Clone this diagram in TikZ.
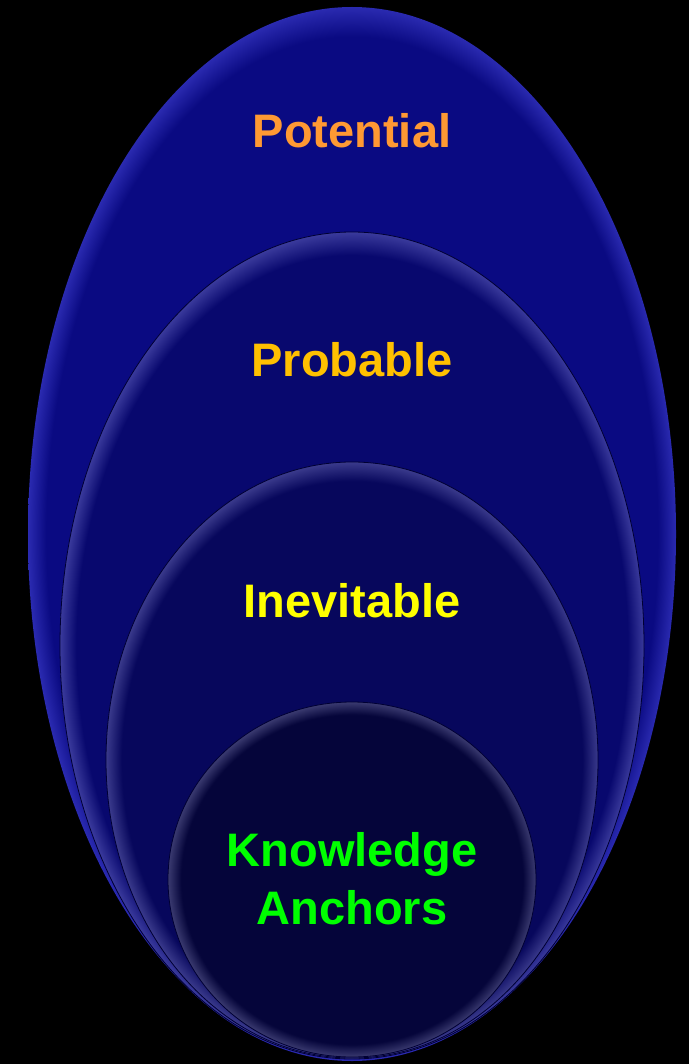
\documentclass[tikz,border=0pt]{standalone}
\usepackage{fontspec}
\setmainfont{Liberation Sans}
\usetikzlibrary{shapes.geometric}

\definecolor{potfill}{HTML}{0A0A82}
\definecolor{potrim}{HTML}{2A2AB0}
\definecolor{probfill}{HTML}{08086E}
\definecolor{probrim}{HTML}{3A3A9C}
\definecolor{inevfill}{HTML}{07075C}
\definecolor{inevrim}{HTML}{3A3A8C}
\definecolor{knowfill}{HTML}{05053A}
\definecolor{knowrim}{HTML}{3A3A70}
\definecolor{potc}{HTML}{FF9933}
\definecolor{probc}{HTML}{FFC000}
\definecolor{inevc}{HTML}{FFFF00}
\definecolor{knowc}{HTML}{00FF00}

\pgfdeclareradialshading{potshade}{\pgfpoint{0bp}{0bp}}{color(0bp)=(potfill); color(23.6bp)=(potfill); color(25bp)=(potrim); color(50bp)=(potrim)}
\pgfdeclareradialshading{probshade}{\pgfpoint{0bp}{0bp}}{color(0bp)=(probfill); color(23.6bp)=(probfill); color(25bp)=(probrim); color(50bp)=(probrim)}
\pgfdeclareradialshading{inevshade}{\pgfpoint{0bp}{0bp}}{color(0bp)=(inevfill); color(23.4bp)=(inevfill); color(25bp)=(inevrim); color(50bp)=(inevrim)}
\pgfdeclareradialshading{knowshade}{\pgfpoint{0bp}{0bp}}{color(0bp)=(knowfill); color(23.2bp)=(knowfill); color(25bp)=(knowrim); color(50bp)=(knowrim)}

\begin{document}
\begin{tikzpicture}[
    x=0.5pt, y=-0.5pt,
    ring/.style={ellipse, inner sep=0pt, outer sep=0pt, draw=black!80!blue, line width=0.4pt},
    label/.style={anchor=base, align=center, font=\fontsize{23.5}{29}\selectfont\bfseries}
]
    \fill[black] (0,0) rectangle (689,1064);
    \useasboundingbox (0,0) rectangle (689,1064);

    \node (pot)  [ring, shading=potshade,  draw=none, minimum width=324pt, minimum height=527pt]   at (352,534) {};
    \node (prob) [ring, shading=probshade, minimum width=292pt, minimum height=413.5pt] at (352,645.5) {};
    \node (inev) [ring, shading=inevshade, minimum width=246pt, minimum height=298pt]   at (352,760) {};
    \node (know) [ring, shading=knowshade, minimum width=184pt, minimum height=177.5pt] at (352,879.5) {};

    \node (potlabel)  [label, text=potc]  at (352,148) {Potential};
    \node (problabel) [label, text=probc] at (352,376) {Probable};
    \node (inevlabel) [label, text=inevc] at (352,617) {Inevitable};
    \node (knowlabel) [label, text=knowc] at (352,924) {Knowledge\\Anchors};
\end{tikzpicture}
\end{document}
